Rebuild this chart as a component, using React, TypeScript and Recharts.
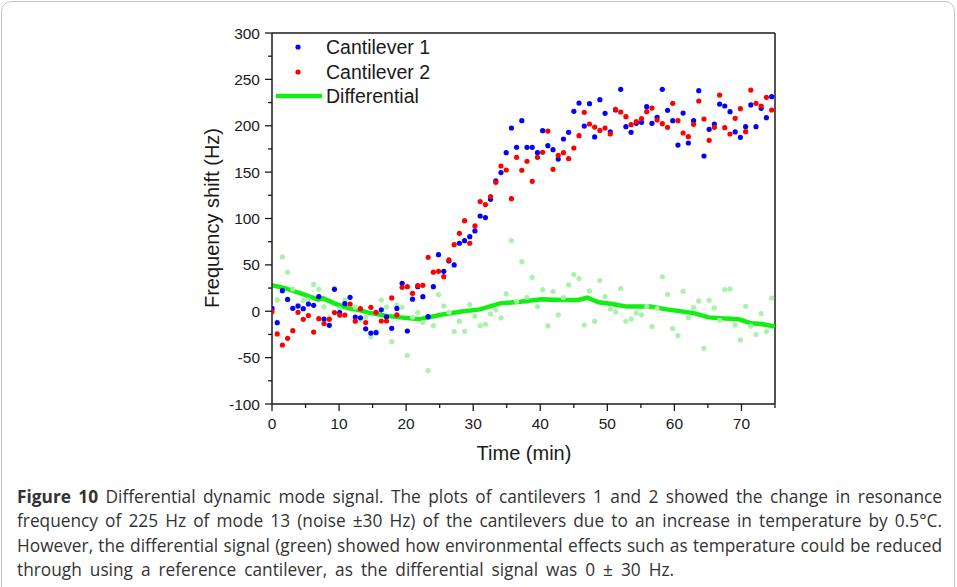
import React from 'react'
import { ComposedChart, Scatter, Line, XAxis, YAxis, ReferenceLine } from 'recharts'

// time of each reading (min)
const timeMin = [
    0, 0.78, 1.55, 2.33, 3.1, 3.88, 4.66, 5.43, 6.21, 6.98,
    7.76, 8.54, 9.31, 10.09, 10.86, 11.64, 12.42, 13.19, 13.97, 14.74,
    15.52, 16.3, 17.07, 17.85, 18.62, 19.4, 20.18, 20.95, 21.73, 22.5,
    23.28, 24.06, 24.83, 25.61, 26.38, 27.16, 27.94, 28.71, 29.49, 30.26,
    31.04, 31.82, 32.59, 33.37, 34.14, 34.92, 35.7, 36.47, 37.25, 38.02,
    38.8, 39.58, 40.35, 41.13, 41.9, 42.68, 43.46, 44.23, 45.01, 45.78,
    46.56, 47.34, 48.11, 48.89, 49.66, 50.44, 51.22, 51.99, 52.77, 53.54,
    54.32, 55.1, 55.87, 56.65, 57.42, 58.2, 58.98, 59.75, 60.53, 61.3,
    62.08, 62.86, 63.63, 64.41, 65.18, 65.96, 66.74, 67.51, 68.29, 69.06,
    69.84, 70.62, 71.39, 72.17, 72.94, 73.72, 74.5,
]

const cantilever1 = [
    3, -12.3, 22.2, 12.8, 3.1, 5.6, 2.8, 7.8, 6.4, 15.7,
    -8.4, -15.2, 23.6, -1.5, 8.2, 15.0, -6.3, -7.0, -19.0, -23.5,
    -23.1, 1.5, -6, -18.4, 3, 30.1, -21.3, 13.0, 26.5, 15.7,
    -5.9, 26.5, 61.0, 43.0, 54.2, 49.9, 73.3, 76.1, 80.4, 86.6,
    102.7, 101.0, 120.7, 140.5, 149.5, 171.0, 197.6, 176.8, 205.5, 176.7,
    176.7, 171.0, 194.7, 178.5, 174.2, 164.1, 185.7, 192.9, 215.5, 224.5,
    199.7, 223.8, 187.9, 228.1, 213.4, 193.5, 217, 239.3, 199.0, 192.9,
    202.6, 203.7, 220.6, 202.6, 209.1, 239.3, 216.6, 205.5, 179.2, 213.7,
    181.4, 205.5, 237.8, 167.4, 196.1, 201.9, 223.4, 221.3, 215.2, 193.3,
    187.5, 199.0, 222.4, 199.0, 218.8, 208.7, 231.3,
]

const cantilever2 = [
    -0.5, -24.5, -36.4, -29.2, -20.9, -1.2, -8.7, -4.6, -22.5, -8.0,
    -13.2, -8.7, -1.4, -4.1, -4.1, 7.8, -10.7, 2.8, -12.2, 4.2,
    -1.2, -10.5, -10.5, 14.4, -4, 25.8, 26.5, 19.3, 27.6, 27.9,
    58.1, 42.1, 43.0, 37.3, 55.3, 71.8, 84.0, 97.7, 73.3, 92.0,
    118.2, 115.0, 123.6, 139.0, 156.6, 152.3, 121.4, 166.0, 152.0, 161.7,
    140.1, 166.0, 171.3, 194.3, 153.0, 168.1, 171.0, 164.5, 176.0, 189.3,
    214.5, 201.9, 198.6, 195.0, 197.6, 191.1, 217.7, 214.8, 209.8, 201.2,
    204.4, 207.6, 215.2, 219.1, 206.2, 202.2, 198.3, 224.2, 205.5, 192.2,
    188.2, 201.5, 226.7, 207.3, 184.3, 198.3, 233.1, 197.9, 191.1, 208.0,
    218.4, 193.6, 238.5, 224.2, 221.3, 230.6, 217.0,
]

// raw differential readings (faint green dots)
const differentialRaw = [
    3.5, 12.2, 58.6, 42.0, 24.0, 6.8, 11.5, 12.4, 28.9, 23.7,
    4.8, -6.5, 25.0, 2.6, 12.3, 7.2, 4.4, -9.8, -6.8, -27.7,
    -21.9, 12.0, 4.5, -32.8, 7.0, 4.3, -47.8, -6.3, -1.1, -12.2,
    -64.0, -15.6, 18.0, 5.7, -1.1, -21.9, -10.7, -21.6, 7.1, -5.4,
    -15.5, -14.0, -2.9, 1.5, -7.1, 18.7, 76.2, 10.8, 53.5, 15.0,
    36.6, 5.0, 23.4, -15.8, 21.2, -4.0, 14.7, 28.4, 39.5, 35.2,
    -14.8, 21.9, -10.7, 33.1, 15.8, 2.4, -0.7, 24.5, -10.8, -8.3,
    -1.8, -3.9, 5.4, -16.5, 2.9, 37.1, 18.3, -18.7, -26.3, 21.5,
    -6.8, 4.0, 11.1, -39.9, 11.8, 3.6, -9.7, 23.4, 24.1, -14.7,
    -30.9, 5.4, -16.1, -25.2, -2.5, -21.9, 14.3,
]

// smoothed differential trace
const trendTime = [
    0, 1.9, 4.4, 6.9, 7.6, 9.3, 11.3, 12.8, 14.4, 16.9,
    19.1, 22.1, 25.0, 28.0, 31.0, 34.0, 37.0, 40.2, 43.2, 45.7,
    47.0, 48.7, 50.7, 52.9, 56.4, 58.9, 61.4, 62.9, 65.1, 67.6,
    69.6, 71.5, 73.0, 75.0,
]
const trendValue = [
    28, 25, 19, 12.5, 14, 8.5, 3.5, 1.5, -1.5, -4.8,
    -6.6, -8.7, -4.0, -0.5, 2.0, 8.5, 10.3, 12.8, 12.1, 12.1,
    14.6, 9.6, 7.8, 5.0, 5.0, 2.0, -0.5, -2.0, -6.6, -7.7,
    -8.7, -13.0, -13.8, -16.5,
]

const xTicks = [0, 5, 10, 15, 20, 25, 30, 35, 40, 45, 50, 55, 60, 65, 70, 75]
const yTicks = [-100, -75, -50, -25, 0, 25, 50, 75, 100, 125, 150, 175, 200, 225, 250, 275, 300]

const BLUE = '#0000ff'
const RED = '#ff0000'
const GREEN = '#11ee11'
const FAINT_GREEN = '#a9f2a9'
const INK = '#1a1a1a'
const AXIS_FONT = '"Liberation Sans", Arial, sans-serif'

const toRows = (ys: number[], xs: number[]) => ys.map((v, i) => ({ t: xs[i], v }))

const dot = (color: string) => (p: any) => <circle cx={p.cx} cy={p.cy} r={2.6} fill={color} />

function YTick(props: any) {
    const { x, y, payload } = props
    const major = payload.value % 50 === 0
    return (
        <g>
            <line x1={x - (major ? 7 : 4)} x2={x} y1={y} y2={y} stroke={INK} strokeWidth={1.3} />
            {major && (
                <text x={x - 12} y={y} dy={5.5} textAnchor="end" fontSize={15.5} fontFamily={AXIS_FONT} fill={INK}>
                    {payload.value}
                </text>
            )}
        </g>
    )
}

function XTick(props: any) {
    const { x, y, payload } = props
    const major = payload.value % 10 === 0
    return (
        <g>
            <line x1={x} x2={x} y1={y} y2={y + (major ? 7 : 4)} stroke={INK} strokeWidth={1.3} />
            {major && (
                <text x={x} y={y + 25} textAnchor="middle" fontSize={15.5} fontFamily={AXIS_FONT} fill={INK}>
                    {payload.value}
                </text>
            )}
        </g>
    )
}

function LegendBox() {
    const row: React.CSSProperties = { position: 'absolute', left: 54, fontSize: 19.5, lineHeight: '22px', whiteSpace: 'nowrap' }
    return (
        <div style={{ position: 'absolute', left: 272, top: 33, fontFamily: AXIS_FONT, color: INK }}>
            <svg width={60} height={80} style={{ position: 'absolute', left: 0, top: 0 }}>
                <circle cx={26} cy={14} r={2.6} fill={BLUE} />
                <circle cx={26} cy={39} r={2.6} fill={RED} />
                <line x1={4} x2={50} y1={63} y2={63} stroke={GREEN} strokeWidth={4.5} />
            </svg>
            <div style={{ ...row, top: 3 }}>Cantilever 1</div>
            <div style={{ ...row, top: 28 }}>Cantilever 2</div>
            <div style={{ ...row, top: 52 }}>Differential</div>
        </div>
    )
}

const captionLines = [
    'Differential dynamic mode signal. The plots of cantilevers 1 and 2 showed the change in resonance',
    'frequency of 225 Hz of mode 13 (noise ±30 Hz) of the cantilevers due to an increase in temperature by 0.5°C.',
    'However, the differential signal (green) showed how environmental effects such as temperature could be reduced',
    'through using a reference cantilever, as the differential signal was 0 ± 30 Hz.',
]

export default function App() {
    const c1Rows = React.useMemo(() => toRows(cantilever1, timeMin), [])
    const c2Rows = React.useMemo(() => toRows(cantilever2, timeMin), [])
    const rawRows = React.useMemo(() => toRows(differentialRaw, timeMin), [])
    const trendRows = React.useMemo(() => toRows(trendValue, trendTime), [])

    return (
        <div style={{ position: 'absolute', left: 0, top: 0, width: 957, height: 587, overflow: 'hidden', background: '#fff' }}>
            <div
                style={{
                    position: 'absolute',
                    left: 1,
                    top: 1,
                    width: 952,
                    height: 640,
                    border: '1px solid #c4c4c4',
                    borderRadius: 10,
                }}
            />
            <ComposedChart width={957} height={587} margin={{ top: 33, right: 182, bottom: 153, left: 212 }}>
                <XAxis
                    type="number"
                    dataKey="t"
                    domain={[0, 75]}
                    ticks={xTicks}
                    interval={0}
                    allowDataOverflow
                    height={30}
                    tickSize={0}
                    tickMargin={0}
                    tickLine={false}
                    tick={<XTick />}
                    axisLine={{ stroke: INK, strokeWidth: 1.5 }}
                />
                <YAxis
                    type="number"
                    dataKey="v"
                    domain={[-100, 300]}
                    ticks={yTicks}
                    interval={0}
                    allowDataOverflow
                    width={60}
                    tickSize={0}
                    tickMargin={0}
                    tickLine={false}
                    tick={<YTick />}
                    axisLine={{ stroke: INK, strokeWidth: 1.5 }}
                />
                <ReferenceLine y={300} stroke={INK} strokeWidth={1.5} />
                <ReferenceLine x={75} stroke={INK} strokeWidth={1.5} />
                <Scatter name="raw" data={rawRows} dataKey="v" shape={dot(FAINT_GREEN)} isAnimationActive={false} />
                <Scatter name="Cantilever 1" data={c1Rows} dataKey="v" shape={dot(BLUE)} isAnimationActive={false} />
                <Scatter name="Cantilever 2" data={c2Rows} dataKey="v" shape={dot(RED)} isAnimationActive={false} />
                <Line
                    name="Differential"
                    data={trendRows}
                    dataKey="v"
                    type="linear"
                    stroke={GREEN}
                    strokeWidth={4.5}
                    dot={false}
                    activeDot={false}
                    isAnimationActive={false}
                />
            </ComposedChart>

            <LegendBox />

            <div
                style={{
                    position: 'absolute',
                    left: 212 - 100,
                    top: 218 - 12,
                    width: 200,
                    textAlign: 'center',
                    fontFamily: AXIS_FONT,
                    fontSize: 20,
                    lineHeight: '24px',
                    color: INK,
                    transform: 'rotate(-90deg)',
                    whiteSpace: 'nowrap',
                }}
            >
                Frequency shift (Hz)
            </div>
            <div
                style={{
                    position: 'absolute',
                    left: 424,
                    top: 441,
                    width: 200,
                    textAlign: 'center',
                    fontFamily: AXIS_FONT,
                    fontSize: 20,
                    lineHeight: '24px',
                    color: INK,
                }}
            >
                Time (min)
            </div>

            <div
                style={{
                    position: 'absolute',
                    left: 17,
                    top: 485,
                    width: 925,
                    fontFamily: '"Open Sans", "Noto Sans", sans-serif',
                    fontSize: 17.3,
                    lineHeight: '24.3px',
                    color: '#333',
                }}
            >
                {captionLines.map((line, i) => {
                    const last = i === captionLines.length - 1
                    return (
                        <div
                            key={i}
                            style={{
                                whiteSpace: 'nowrap',
                                textAlign: 'justify',
                                textAlignLast: last ? 'left' : 'justify',
                                wordSpacing: last ? 3.5 : 0,
                            }}
                        >
                            {i === 0 && <b style={{ fontWeight: 700 }}>Figure 10 </b>}
                            {line}
                        </div>
                    )
                })}
            </div>
        </div>
    )
}
